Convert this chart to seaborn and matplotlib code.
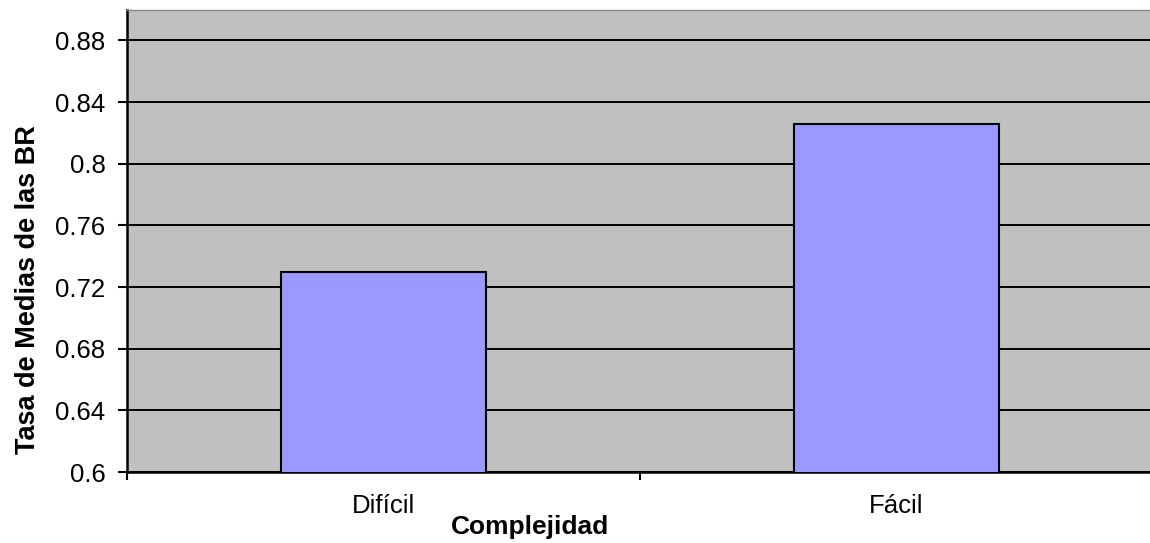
import matplotlib
matplotlib.use("Agg")
import matplotlib.pyplot as plt
import seaborn as sns
import pandas as pd

# Mean BR rate by task complexity
categories = ["Difícil", "Fácil"]
values = [0.7295, 0.8258]
y_ticks = [0.6, 0.64, 0.68, 0.72, 0.76, 0.8, 0.84, 0.88]

df = pd.DataFrame({"Complejidad": categories, "Tasa": values})

sns.set_style("white")
plt.rcParams["font.family"] = ["Liberation Sans", "DejaVu Sans"]
plt.rcParams["text.color"] = "black"
plt.rcParams["axes.labelcolor"] = "black"
plt.rcParams["xtick.color"] = "black"
plt.rcParams["ytick.color"] = "black"

fig = plt.figure(figsize=(11.5, 5.43), dpi=100)
ax = fig.add_axes([127 / 1150, 1 - 472 / 543, 1026 / 1150, (472 - 9.5) / 543])
ax.set_facecolor("#C0C0C0")

sns.barplot(data=df, x="Complejidad", y="Tasa", color="#9999FF", saturation=1,
            edgecolor="black", linewidth=1.5, width=0.4, ax=ax, zorder=3)

ax.set_xlim(-0.5, 1.5)
ax.set_ylim(0.6, 0.9)
ax.set_yticks(y_ticks)
ax.set_yticklabels([f"{t:g}" for t in y_ticks])

ax.set_axisbelow(True)
ax.yaxis.grid(True, color="black", linewidth=1.4, zorder=1)
ax.xaxis.grid(False)

for side in ("left", "bottom"):
    ax.spines[side].set_color("black")
    ax.spines[side].set_linewidth(1.8)
ax.spines["top"].set_color("#888888")
ax.spines["top"].set_linewidth(1.0)
ax.spines["right"].set_visible(False)

ax.tick_params(axis="y", which="major", left=True, direction="out", length=6.5,
               width=1.5, color="black", pad=9, labelsize=18.5, labelcolor="black")
ax.tick_params(axis="x", which="major", bottom=True, length=0, pad=16,
               labelsize=18.5, labelcolor="black")
ax.set_xticks([-0.5, 0.5, 1.5], minor=True)
ax.tick_params(axis="x", which="minor", bottom=True, direction="out", length=6,
               width=1.5, color="black")

ax.set_xlabel("Complejidad", fontsize=19, fontweight="bold", color="black")
ax.set_ylabel("Tasa de Medias de las BR", fontsize=19.5, fontweight="bold", color="black")
ax.xaxis.set_label_coords((530 - 127) / 1026, -0.093)
ax.yaxis.set_label_coords(-0.084, (472 - 290) / 462.5)

fig.savefig("out.png", dpi=100, facecolor="white")
